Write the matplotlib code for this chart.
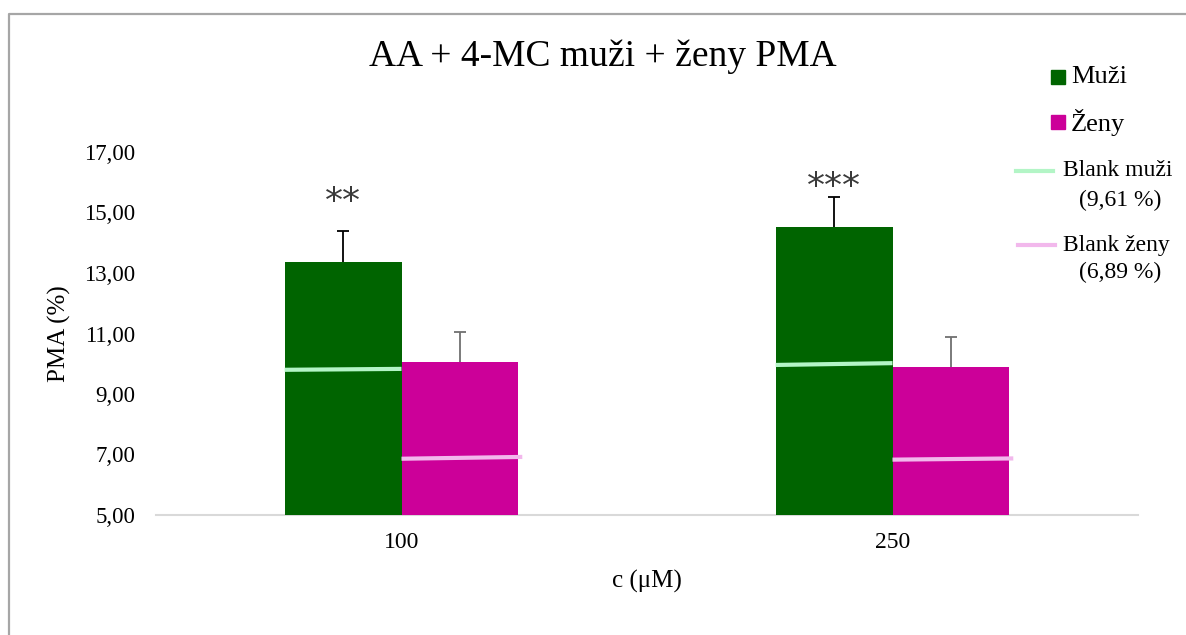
import matplotlib
matplotlib.use("Agg")
import matplotlib.pyplot as plt
from matplotlib.lines import Line2D
from matplotlib.patches import Rectangle
import numpy as np

plt.rcParams["font.family"] = ["Liberation Serif", "DejaVu Serif"]

# --- data ---
concentrations = ["100", "250"]
muzi = [13.36, 14.52]
zeny = [10.07, 9.89]
muzi_err = [1.03, 1.00]
zeny_err = [0.99, 1.00]
# blank reference segments (start / end of each short line)
blank_muzi_start = [9.80, 9.96]
blank_muzi_end = [9.83, 10.02]
blank_zeny_start = [6.86, 6.83]
blank_zeny_end = [6.92, 6.87]
significance = ["**", "***"]
sig_baseline = [15.02, 15.51]
yticks = [5, 7, 9, 11, 13, 15, 17]

GREEN = "#006400"
MAGENTA = "#CC0099"
BLANK_M = "#B3F5C6"
BLANK_Z = "#F2B8EC"

W, H = 1186, 635
fig = plt.figure(figsize=(W / 100, H / 100), dpi=100)
ax = fig.add_axes([156 / W, 1 - 515 / H, (1138 - 156) / W, (515 - 152) / H])

x = np.arange(len(concentrations))
bw = 0.238
ax.bar(x - bw / 2, muzi, bw, color=GREEN, zorder=2)
ax.bar(x + bw / 2, zeny, bw, color=MAGENTA, zorder=2)
for xs, vals, errs, col in [(x - bw / 2, muzi, muzi_err, "black"),
                            (x + bw / 2, zeny, zeny_err, "#707070")]:
    eb = ax.errorbar(xs, vals, yerr=[np.zeros(len(vals)), errs], fmt="none",
                     ecolor=col, elinewidth=1.3, capsize=4.5, capthick=1.3,
                     zorder=3)
    eb[1][0].set_visible(False)  # only the upper cap, like Excel "plus"

for i in range(len(x)):
    ax.plot([x[i] - bw, x[i]], [blank_muzi_start[i], blank_muzi_end[i]],
            color=BLANK_M, lw=3, solid_capstyle="butt", zorder=4)
    ax.plot([x[i], x[i] + bw + 0.008], [blank_zeny_start[i], blank_zeny_end[i]],
            color=BLANK_Z, lw=3, solid_capstyle="butt", zorder=4)
    ax.text(x[i] - bw / 2, sig_baseline[i], significance[i], ha="center",
            va="baseline", fontsize=26, color="#3A3A3A", family="DejaVu Sans")

ax.set_xlim(-0.5, 1.5)
ax.set_ylim(5, 17)
ax.set_yticks(yticks)
ax.set_yticklabels([f"{v:.2f}".replace(".", ",") for v in yticks], fontsize=16.5)
ax.set_xticks(x)
ax.set_xticklabels(concentrations, fontsize=17)
ax.tick_params(axis="both", length=0)
ax.tick_params(axis="y", pad=15)
ax.tick_params(axis="x", pad=12)
for s in ["top", "right", "left"]:
    ax.spines[s].set_visible(False)
ax.spines["bottom"].set_color("#D9D9D9")
ax.spines["bottom"].set_linewidth(1.5)
ax.spines["bottom"].set_zorder(1)

ax.set_ylabel("PMA (%)", fontsize=18)
ax.yaxis.set_label_coords((71 - 156) / 982, 0.5)
ax.set_xlabel("c (μM)", fontsize=18)
ax.xaxis.set_label_coords(0.5, (515 - 570) / 363)

fig.text(603 / W, 1 - 57 / H, "AA + 4-MC muži + ženy PMA", ha="center",
         va="center", fontsize=27)

# legend, drawn by hand to copy the Excel layout
def fx(px):
    return px / W

def fy(py):
    return 1 - py / H

fig.patches.append(Rectangle((fx(1051), fy(84)), 14 / W, 14 / H, color=GREEN,
                             transform=fig.transFigure))
fig.patches.append(Rectangle((fx(1051), fy(129)), 14 / W, 14 / H, color=MAGENTA,
                             transform=fig.transFigure))
fig.text(fx(1071), fy(77), "Muži", va="center", fontsize=19)
fig.text(fx(1071), fy(122), "Ženy", va="center", fontsize=19)
fig.lines.append(Line2D([fx(1016), fx(1053)], [fy(171), fy(171)], color=BLANK_M,
                        lw=3, transform=fig.transFigure))
fig.lines.append(Line2D([fx(1018), fx(1055)], [fy(245), fy(245)], color=BLANK_Z,
                        lw=3, transform=fig.transFigure))
fig.text(fx(1063), fy(171), "Blank muži", va="center", fontsize=17)
fig.text(fx(1079), fy(200), "(9,61 %)", va="center", fontsize=17)
fig.text(fx(1063), fy(245), "Blank ženy", va="center", fontsize=17)
fig.text(fx(1079), fy(272), "(6,89 %)", va="center", fontsize=17)

# chart frame (cropped on right and bottom)
fig.lines.append(Line2D([fx(8.5), fx(8.5), 1], [0, fy(13.5), fy(13.5)],
                        color="#A6A6A6", lw=1.6, transform=fig.transFigure))

fig.savefig("out.png", dpi=100)
